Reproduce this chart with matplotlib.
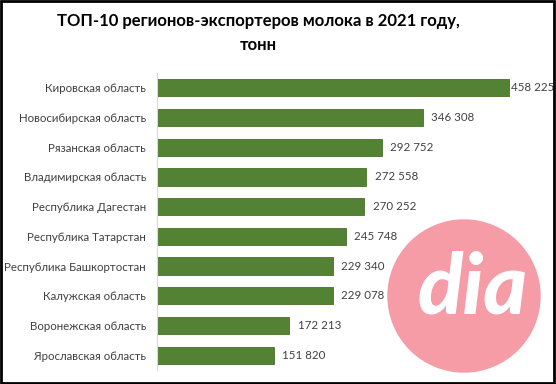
import matplotlib.pyplot as plt
from matplotlib.patches import Circle, Rectangle

regions = ['Кировская область', 'Новосибирская область', 'Рязанская область',
           'Владимирская область', 'Республика Дагестан', 'Республика Татарстан',
           'Республика Башкортостан', 'Калужская область', 'Воронежская область',
           'Ярославская область']
values = [458225, 346308, 292752, 272558, 270252, 245748, 229340, 229078, 172213, 151820]
labels = ['458 225', '346 308', '292 752', '272 558', '270 252', '245 748',
          '229 340', '229 078', '172 213', '151 820']

plt.rcParams['font.family'] = ['Lato', 'DejaVu Sans']

W, H = 5.56, 3.84
fig = plt.figure(figsize=(W, H), dpi=100)
# axes: x 157..520 px, y 73..370 px
ax = fig.add_axes([157 / 556, 1 - 370 / 384, (520 - 157) / 556, (370 - 73) / 384])

pos = list(range(len(regions)))
ax.barh(pos, values, height=0.58, color='#548235', edgecolor='#46702b', linewidth=0.6)
for p, v, t in zip(pos, values, labels):
    ax.text(min(v + 11000, 461000), p, t, va='center', ha='left', fontsize=8.3, color='#404040')

ax.set_yticks(pos)
ax.set_yticklabels(regions, fontsize=8.3, color='#404040')
ax.set_ylim(9.5, -0.5)
ax.set_xlim(0, 473000)
ax.set_xticks([])
ax.tick_params(axis='y', length=0, pad=8)
for s in ['top', 'right', 'bottom']:
    ax.spines[s].set_visible(False)
ax.spines['left'].set_color('#d9d9d9')

fig.text(0.465, 1 - 21 / 384, 'ТОП-10 регионов-экспортеров молока в 2021 году,',
         ha='center', va='center', fontsize=12, fontweight='bold', color='black')
fig.text(0.465, 1 - 45 / 384, 'тонн', ha='center', va='center',
         fontsize=12, fontweight='bold', color='black')

# dia watermark
fig.patches.append(Circle((4.64, H - 2.96), 0.76, transform=fig.dpi_scale_trans,
                          color='#f59ca6', zorder=5))
fig.text(473 / 556, 1 - 313 / 384, 'dia', ha='center', va='baseline', fontsize=60,
         fontweight='black', style='italic', color='white', zorder=6)

# frame
fig.patches.append(Rectangle((0.002, 0.003), 0.994, 0.994, transform=fig.transFigure,
                             fill=False, edgecolor='black', linewidth=2, zorder=10))

fig.savefig('out.png', dpi=100)
